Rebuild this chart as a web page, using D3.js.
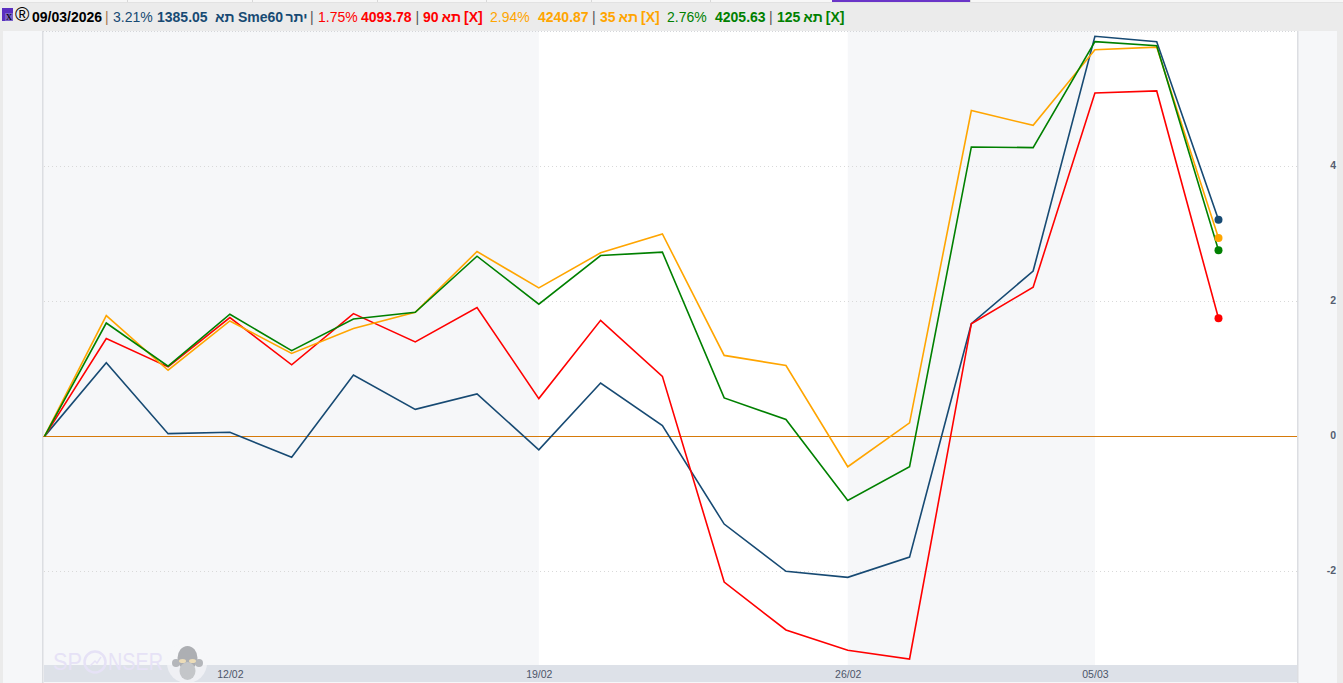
<!DOCTYPE html>
<html><head><meta charset="utf-8">
<script src="https://cdn.jsdelivr.net/npm/d3@7/dist/d3.min.js"></script>
<style>html,body{margin:0;padding:0;background:#ebebeb;overflow:hidden}svg{display:block}</style>
</head><body><svg id="c" width="1343" height="683"></svg>
<script>
const dates=["09/02","10/02","11/02","12/02","15/02","16/02","17/02","18/02","19/02","22/02","23/02","24/02","25/02","26/02","01/03","02/03","04/03","05/03","08/03","09/03"];
const xTickLabels=["12/02","19/02","26/02","05/03"];
const yTickValues=[-2,0,2,4];
const bandEdges=["09/02","19/02","26/02","05/03"];
const sme60=[0,1.09,0.04,0.06,-0.31,0.91,0.40,0.63,-0.20,0.79,0.16,-1.30,-2.00,-2.09,-1.79,1.67,2.45,5.93,5.85,3.21];
const ta90=[0,1.45,1.03,1.76,1.06,1.82,1.40,1.91,0.56,1.72,0.89,-2.16,-2.87,-3.17,-3.30,1.67,2.21,5.09,5.12,1.75];
const ta35=[0,1.79,0.98,1.71,1.23,1.60,1.84,2.74,2.20,2.72,3.00,1.20,1.05,-0.45,0.20,4.83,4.61,5.73,5.77,2.94];
const ta125=[0,1.68,1.04,1.81,1.27,1.74,1.84,2.67,1.96,2.68,2.73,0.57,0.25,-0.95,-0.45,4.29,4.28,5.85,5.79,2.76];
const seriesList=[{v:sme60,c:"#174a73"},{v:ta90,c:"#ff0000"},{v:ta35,c:"#ffa500"},{v:ta125,c:"#008000"}];
const headerDate="09/03/2026";
const headerItems=[
 {t:"|",x:105,c:"#a5784a",w:400},{t:"3.21%",x:113,c:"#174a73",w:400},{t:"1385.05",x:157,c:"#174a73",w:700},
 {t:"תא",x:215,c:"#174a73",w:700},{t:"Sme60",x:238,c:"#174a73",w:700},{t:"יתר",x:285.5,c:"#174a73",w:700},
 {t:"|",x:310,c:"#555",w:400},{t:"1.75%",x:318,c:"#ff0000",w:400},{t:"4093.78",x:361,c:"#ff0000",w:700},
 {t:"|",x:415.5,c:"#555",w:400},{t:"90 תא [X]",x:423,c:"#ff0000",w:700,ws:-1},
 {t:"2.94%",x:490,c:"#ffa500",w:400},{t:"4240.87",x:538,c:"#ffa500",w:700},
 {t:"|",x:592,c:"#555",w:400},{t:"35 תא [X]",x:600,c:"#ffa500",w:700,ws:-1},
 {t:"2.76%",x:667,c:"#008000",w:400},{t:"4205.63",x:715,c:"#008000",w:700},
 {t:"|",x:769,c:"#555",w:400},{t:"125 תא [X]",x:777,c:"#008000",w:700,ws:-1}
];
const tabGaps=[127,252,377,486,591,710,832,970];

const svg=d3.select("#c");
const x=d3.scalePoint().domain(dates).range([44.5,1218.5]);
const y=d3.scaleLinear().domain([-2,4]).range([571.3,166.5]);
const F="'Liberation Sans',Arial,sans-serif";

// top strip
svg.append("rect").attr("x",0).attr("y",0).attr("width",1343).attr("height",2).attr("fill","#f7f7f7");
svg.selectAll("rect.gap").data(tabGaps).join("rect").attr("class","gap").attr("x",d=>d).attr("y",0).attr("width",1).attr("height",2).attr("fill","#d8d8d8");
svg.append("rect").attr("x",832).attr("y",0).attr("width",138).attr("height",2).attr("fill","#6a35c8");
svg.append("rect").attr("x",0).attr("y",2).attr("width",1343).attr("height",1).attr("fill","#e2e2e2");

// frame
svg.append("rect").attr("x",3).attr("y",31).attr("width",1334).attr("height",652).attr("fill","#f6f7f9");
svg.append("rect").attr("x",43).attr("y",31).attr("width",1254).attr("height",634).attr("fill","#ffffff");
const bands=[[bandEdges[0],bandEdges[1]],[bandEdges[2],bandEdges[3]]];
svg.selectAll("rect.band").data(bands).join("rect").attr("class","band")
 .attr("x",(d,i)=>i?x(d[0]):43).attr("y",31).attr("width",(d,i)=>x(d[1])-(i?x(d[0]):43)).attr("height",634).attr("fill","#f6f7f9");
svg.append("rect").attr("x",44).attr("y",665).attr("width",1254).attr("height",17).attr("fill","#dde1e8");
svg.append("rect").attr("x",42).attr("y",31).attr("width",1.5).attr("height",652).attr("fill","#dcdee2");
svg.append("rect").attr("x",1297).attr("y",31).attr("width",1.5).attr("height",652).attr("fill","#dcdee2");
svg.append("line").attr("x1",43).attr("x2",1297).attr("y1",31.5).attr("y2",31.5).attr("stroke","#d4d6da").attr("stroke-dasharray","1 2");

// watermark
const wmC="#e6e2f6";
const wm=svg.append("g");
wm.append("text").attr("x",53).attr("y",670).attr("font-family",F).attr("font-size",23).attr("textLength",29).attr("lengthAdjust","spacingAndGlyphs").attr("fill",wmC).text("SP");
wm.append("circle").attr("cx",95).attr("cy",662).attr("r",10.5).attr("fill","none").attr("stroke",wmC).attr("stroke-width",2.5);
wm.append("path").attr("d",d3.line()([[90,666],[95,661],[97,663],[101,657]])).attr("fill","none").attr("stroke",wmC).attr("stroke-width",1.5);
wm.append("text").attr("x",108).attr("y",670).attr("font-family",F).attr("font-size",23).attr("textLength",55).attr("lengthAdjust","spacingAndGlyphs").attr("fill",wmC).text("NSER");
wm.append("circle").attr("cx",187).attr("cy",663).attr("r",20).attr("fill","#f6f7f9").attr("opacity",.7);
wm.append("ellipse").attr("cx",187.5).attr("cy",658).attr("rx",10).attr("ry",12).attr("fill","#adafb3");
wm.append("ellipse").attr("cx",187.5).attr("cy",671).attr("rx",8).attr("ry",9).attr("fill","#c4c6c9");
wm.append("circle").attr("cx",176).attr("cy",663).attr("r",4).attr("fill","#b4b6ba");
wm.append("circle").attr("cx",199).attr("cy",663).attr("r",4).attr("fill","#b4b6ba");
wm.append("ellipse").attr("cx",182.5).attr("cy",661).attr("rx",3.5).attr("ry",2).attr("fill","#ecdcb8");
wm.append("ellipse").attr("cx",192.5).attr("cy",661).attr("rx",3.5).attr("ry",2).attr("fill","#ecdcb8");

// grid
svg.append("g").selectAll("line").data(yTickValues.filter(d=>d!==0)).join("line")
 .attr("x1",44).attr("x2",1297).attr("y1",d=>Math.floor(y(d))+.5).attr("y2",d=>Math.floor(y(d))+.5)
 .attr("stroke","#d9d9d9").attr("stroke-dasharray","1 3");

// axes
const yAxis=svg.append("g").attr("transform","translate(1337,-1)").call(d3.axisLeft(y).tickValues(yTickValues).tickSize(0).tickPadding(1).tickFormat(d=>String(d)));
yAxis.select(".domain").remove();
yAxis.selectAll("text").attr("font-family",F).attr("font-size",10.5).attr("font-weight",700).attr("fill","#555e70");
const xAxis=svg.append("g").attr("transform","translate(0,665)").call(d3.axisBottom(x).tickValues(xTickLabels).tickSize(0).tickPadding(6));
xAxis.select(".domain").remove();
xAxis.selectAll("text").attr("font-family",F).attr("font-size",10.5).attr("fill","#4d5668");

// zero line
svg.append("rect").attr("class","zero").attr("x",43).attr("width",1254).attr("y",Math.floor(y(0))).attr("height",1).attr("fill","#d67a0a");

// series
const line=d3.line().x((d,i)=>x(dates[i])).y(d=>y(d));
svg.selectAll("path.s").data(seriesList).join("path").attr("class","s").attr("d",d=>line(d.v)).attr("fill","none").attr("stroke",d=>d.c).attr("stroke-width",1.6).attr("stroke-linejoin","miter");
svg.selectAll("circle.e").data(seriesList).join("circle").attr("class","e")
 .attr("cx",x(dates[dates.length-1])).attr("cy",d=>y(d.v[d.v.length-1])).attr("r",4).attr("fill",d=>d.c);

// header
svg.append("rect").attr("x",2).attr("y",8).attr("width",11).attr("height",13).attr("fill","#5a2fc0");
svg.append("rect").attr("x",5).attr("y",13).attr("width",8).attr("height",8).attr("fill","#7a62c8");
svg.append("text").attr("x",6).attr("y",20).attr("font-family","'Liberation Serif',serif").attr("font-size",12).attr("fill","#000").text("x");
svg.append("text").attr("x",15).attr("y",21).attr("font-family",F).attr("font-size",19.5).attr("fill","#000").text("®");
svg.append("text").attr("x",32).attr("y",22).attr("font-family",F).attr("font-size",14).attr("font-weight",700).attr("fill","#000").text(headerDate);
svg.selectAll("text.h").data(headerItems).join("text").attr("class","h")
 .attr("x",d=>d.x).attr("y",22).attr("font-family",F).attr("font-size",14).attr("font-weight",d=>d.w).attr("fill",d=>d.c).attr("word-spacing",d=>d.ws||0).attr("direction","ltr").text(d=>d.t);
</script></body></html>
